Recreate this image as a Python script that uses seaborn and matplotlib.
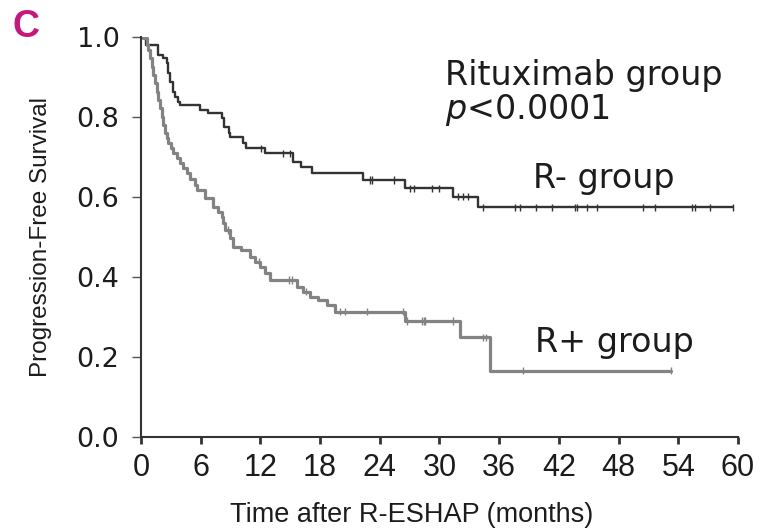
import numpy as np
import pandas as pd
import matplotlib
matplotlib.use("Agg")
import matplotlib.pyplot as plt
import seaborn as sns

# ---- data ----
r_minus_time = [0, 0.5, 1.7, 2.2, 2.6, 2.7, 2.9, 3.25, 3.4, 3.75, 3.9, 5.9, 6.7, 8.1, 8.3,
                8.8, 8.9, 10.3, 10.6, 12.5, 15.3, 16.1, 17.2, 22.3, 26.5, 31.4, 33.9, 59.5]
r_minus_surv = [1.0, 0.98, 0.955, 0.947, 0.934, 0.909, 0.888, 0.863, 0.851, 0.838, 0.829,
                0.8175, 0.809, 0.797, 0.776, 0.759, 0.751, 0.734, 0.722, 0.709, 0.688,
                0.676, 0.659, 0.6425, 0.622, 0.601, 0.574, 0.574]
r_minus_censor = [12.1, 14.3, 15.0, 23.0, 23.2, 25.4, 27.0, 27.4, 29.2, 30.0, 31.9, 32.4,
                  32.9, 34.4, 37.6, 38.1, 39.7, 41.3, 43.6, 43.8, 44.8, 45.8, 50.5, 51.7,
                  55.4, 55.7, 57.2, 59.5]

r_plus_time = [0, 0.23, 0.57, 0.74, 0.90, 1.07, 1.24, 1.41, 1.58, 1.74, 1.91, 2.08, 2.24,
               2.41, 2.58, 2.74, 3.02, 3.25, 3.59, 3.92, 4.25, 4.59, 4.92, 5.43, 5.6, 6.43,
               7.27, 7.77, 8.1, 8.27, 8.44, 8.94, 9.28, 10.1, 10.95, 11.46, 11.96, 12.46,
               12.96, 15.65, 16.3, 16.98, 17.8, 18.66, 19.5, 26.5, 32.1, 35.1, 53.3]
r_plus_surv = [1.0, 0.997, 0.98, 0.9675, 0.947, 0.926, 0.905, 0.884, 0.863, 0.8425, 0.822,
               0.80, 0.78, 0.759, 0.747, 0.734, 0.722, 0.709, 0.697, 0.684, 0.672, 0.659,
               0.645, 0.63, 0.6175, 0.597, 0.576, 0.563, 0.551, 0.534, 0.5175, 0.497,
               0.476, 0.4675, 0.451, 0.438, 0.426, 0.409, 0.3925, 0.376, 0.363, 0.351,
               0.3425, 0.33, 0.313, 0.29, 0.249, 0.166, 0.166]
r_plus_censor = [8.7, 11.9, 14.9, 15.2, 16.6, 20.0, 20.5, 22.7, 26.3, 26.7, 28.2, 28.4,
                 28.5, 31.4, 34.4, 34.7, 38.4, 53.3]

groups = ["R- group", "R+ group"]
x_ticks = [0, 6, 12, 18, 24, 30, 36, 42, 48, 54, 60]
y_ticks = [0.0, 0.2, 0.4, 0.6, 0.8, 1.0]

# ---- build tables ----
curves = pd.concat([
    pd.DataFrame({"time": r_minus_time, "surv": r_minus_surv, "group": groups[0]}),
    pd.DataFrame({"time": r_plus_time, "surv": r_plus_surv, "group": groups[1]}),
], ignore_index=True)


def step_value(times, survs, t):
    i = np.searchsorted(times, t, side="right") - 1
    return survs[max(i, 0)]


cens = pd.concat([
    pd.DataFrame({"time": r_minus_censor,
                  "surv": [step_value(r_minus_time, r_minus_surv, t) for t in r_minus_censor],
                  "group": groups[0]}),
    pd.DataFrame({"time": r_plus_censor,
                  "surv": [step_value(r_plus_time, r_plus_surv, t) for t in r_plus_censor],
                  "group": groups[1]}),
], ignore_index=True)

palette = {groups[0]: "#333333", groups[1]: "#838383"}
txt = "#1c1c1c"

sns.set_theme(style="ticks")
plt.rcParams["font.family"] = ["Liberation Sans", "DejaVu Sans"]

fig = plt.figure(figsize=(7.65, 5.31), dpi=100)
ax = fig.add_axes([0.1843, 0.177, 0.7804, 0.7533])

for g, lw in zip(groups, [1.7, 2.3]):
    sub = curves[curves["group"] == g]
    sns.lineplot(data=sub, x="time", y="surv", ax=ax, color=palette[g], lw=lw,
                 drawstyle="steps-post", estimator=None, sort=False, legend=False)
sns.scatterplot(data=cens, x="time", y="surv", hue="group", palette=palette, ax=ax,
                marker="|", s=28, linewidth=1.0, legend=False, zorder=3)

ax.set_xlim(0, 60)
ax.set_ylim(0, 1.0)
ax.set_xticks(x_ticks)
ax.set_xticklabels([str(t) for t in x_ticks])
ax.set_yticks(y_ticks)
ax.set_yticklabels([f"{t:.1f}" for t in y_ticks], family="DejaVu Sans")
sns.despine(ax=ax)
for s in ["left", "bottom"]:
    ax.spines[s].set_color("#333333")
    ax.spines[s].set_linewidth(1.5)

ax.tick_params(axis="x", direction="out", length=5, width=2, color="#333333",
               labelsize=22, pad=6.5, labelcolor=txt)
ax.tick_params(axis="y", direction="out", length=6.5, width=1, color="#555555",
               labelsize=19.5, pad=9, labelcolor=txt)
ax.xaxis.get_major_ticks()[1].tick1line.set_color("#b0b0b0")

ax.set_xlabel("Time after R-ESHAP (months)", fontsize=19.5, family="Liberation Sans",
              color=txt)
ax.xaxis.set_label_coords(0.454, -0.163)
ax.set_ylabel("Progression-Free Survival", fontsize=17.5, family="Liberation Sans",
              color=txt, labelpad=18)

ann_kw = dict(fontsize=24, color=txt, family="DejaVu Sans", va="baseline")
ax.text(30.55, 0.88, "Rituximab group", **ann_kw)
ax.text(30.55, 0.795, r"$\mathit{p}$<0.0001", **ann_kw)
ax.text(39.4, 0.622, "R- group", **ann_kw)
ax.text(39.6, 0.213, "R+ group", **ann_kw)

fig.text(0.0157, 0.930, "C", fontsize=27, fontweight="bold", color="#c8177a",
         family="Liberation Sans", va="baseline")

fig.savefig("out.png", dpi=100)
